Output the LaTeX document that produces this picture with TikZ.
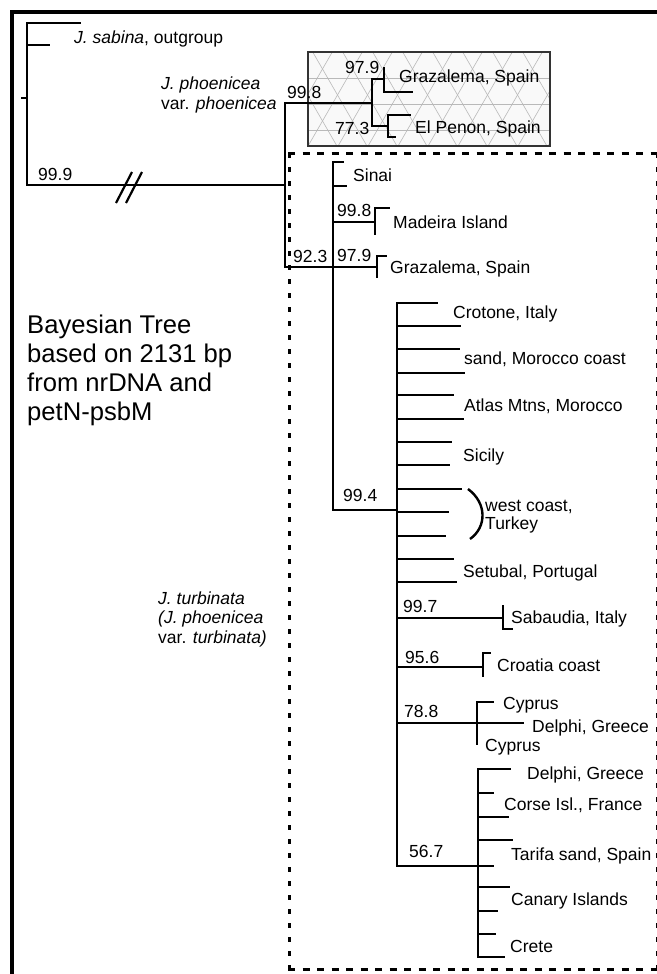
\documentclass[tikz,border=0pt]{standalone}
\usepackage{fontspec}
\setmainfont{Liberation Sans}
\begin{document}
\begin{tikzpicture}[x=1pt,y=-1pt,
  br/.style={line width=2.8pt,line cap=rect},
  lbl/.style={anchor=base west,inner sep=0pt,font=\fontsize{17.5}{20}\selectfont},
  big/.style={anchor=base west,inner sep=0pt,font=\fontsize{25.6}{29}\selectfont},
  dsh/.style={line width=3pt,dash pattern=on 7pt off 7.5pt},
  dshv/.style={line width=3pt,dash pattern=on 5pt off 9pt},
  hatchln/.style={gray!55,line width=0.6pt}]
\useasboundingbox (0,0) rectangle (656,974);
% outer frame
\draw[line width=3.2pt,line join=miter] (12,990) -- (12,12) -- (670,12);
% hatched box
\begin{scope}
  \clip (308,52) rectangle (550,146);
  \fill[gray!5] (308,52) rectangle (550,146);
  \foreach \k in {0,...,4} {\draw[hatchln] (300,52+\k*26) -- (560,52+\k*26);}
  \foreach \x in {180,210,...,600} {
    \draw[hatchln] (\x,30) -- ({\x+80.8},170);
    \draw[hatchln] ({\x+15},30) -- ({\x+15-80.8},170);
  }
\end{scope}
\draw[line width=1.6pt,black!80] (308,52) rectangle (550,146);
% dashed box
\draw[dsh] (288,153) -- (660,153);
\draw[dsh] (288,969) -- (660,969);
\draw[dshv] (289,153) -- (289,969);
\draw[dshv] (657,153) -- (657,969);
% root and outgroup
\draw[br] (22,98) -- (27,98);
\draw[br] (80,23) -- (27,23) -- (27,185) -- (285,185);
\draw[br] (27,45) -- (49,45);
\draw[line width=2.2pt] (116,203) -- (132,172) (126,203) -- (142,172);
% phoenicea
\draw[br] (372,103) -- (285,103) -- (285,267) -- (333,267);
\draw[br] (384,79) -- (372,79) -- (372,126) -- (388,126);
\draw[br] (384,68) -- (384,92) -- (412,92);
\draw[br] (410,115) -- (388,115) -- (388,137) -- (395,137);
% turbinata
\draw[br] (343,162) -- (333,162) -- (333,510) -- (397,510);
\draw[br] (333,186) -- (346,186);
\draw[br] (333,222) -- (375,222);
\draw[br] (389,208) -- (375,208) -- (375,234);
\draw[br] (333,267) -- (377,267);
\draw[br] (386,256) -- (377,256) -- (377,277);
% polytomy
\draw[br] (437,303) -- (397,303) -- (397,866) -- (478,866);
\foreach \y/\e in {326/460,349/459,373/464,395/453,419/463,442/451,465/449,489/461,512/448,536/445,559/453,582/456}
  {\draw[br] (397,\y) -- (\e,\y);}
\draw[br] (397,618) -- (503,618);
\draw[br] (503,606) -- (503,629) -- (512,629);
\draw[br] (397,667) -- (483,667);
\draw[br] (490,653) -- (483,653) -- (483,676);
\draw[br] (397,723) -- (523,723);
\draw[br] (493,702) -- (477,702) -- (477,744);
\draw[br] (478,769) -- (478,957);
\foreach \y/\e in {769/510,793/493,817/508,840/512,887/509,911/497,934/495,957/504}
  {\draw[br] (478,\y) -- (\e,\y);}
\draw[br] (478,866) -- (493,866);
\draw[line width=2.4pt] (468,489) .. controls (487,503) and (487,527) .. (470,539);
% labels
\node[lbl] (sab) at (74,44) {\textit{J. sabina}, outgroup};
\node[lbl] (ph1) at (161,89) {\textit{J. phoenicea}};
\node[lbl] (ph2) at (161,109) {var. \textit{phoenicea}};
\node[lbl] (n998a) at (287,99) {99.8};
\node[lbl] (n979a) at (345,74) {97.9};
\node[lbl] (gra1) at (399,82) {Grazalema, Spain};
\node[lbl] (n773) at (335,134) {77.3};
\node[lbl] (pen) at (415,133) {El Penon, Spain};
\node[lbl] (n999) at (38,180) {99.9};
\node[lbl] (n923) at (293,262) {92.3};
\node[lbl] (sin) at (353,181) {Sinai};
\node[lbl] (n998b) at (337,216) {99.8};
\node[lbl] (mad) at (393,228) {Madeira Island};
\node[lbl] (n979b) at (337,261) {97.9};
\node[lbl] (gra2) at (390,273) {Grazalema, Spain};
\node[lbl] (cro) at (453,318) {Crotone, Italy};
\node[lbl] (mor) at (464,364) {sand, Morocco coast};
\node[lbl] (atl) at (464,411) {Atlas Mtns, Morocco};
\node[lbl] (sic) at (463,461) {Sicily};
\node[lbl] (n994) at (343,501) {99.4};
\node[lbl] (tu1) at (485,511) {west coast,};
\node[lbl] (tu2) at (485,529) {Turkey};
\node[lbl] (set) at (463,577) {Setubal, Portugal};
\node[lbl] (n997) at (403,612) {99.7};
\node[lbl] (sab2) at (511,623) {Sabaudia, Italy};
\node[lbl] (n956) at (405,663) {95.6};
\node[lbl] (croa) at (497,671) {Croatia coast};
\node[lbl] (n788) at (404,717) {78.8};
\node[lbl] (cyp1) at (503,709) {Cyprus};
\node[lbl] (del1) at (532,732) {Delphi, Greece};
\node[lbl] (cyp2) at (485,751) {Cyprus};
\node[lbl] (del2) at (527,779) {Delphi, Greece};
\node[lbl] (cor) at (504,810) {Corse Isl., France};
\node[lbl] (tar) at (511,860) {Tarifa sand, Spain};
\node[lbl] (can) at (511,905) {Canary Islands};
\node[lbl] (cre) at (510,952) {Crete};
\node[lbl] (n567) at (409,857) {56.7};
\node[big] (b1) at (27,333) {Bayesian Tree};
\node[big] (b2) at (27,362) {based on 2131 bp};
\node[big] (b3) at (27,391) {from nrDNA and};
\node[big] (b4) at (27,420) {petN-psbM};
\node[lbl] (t1) at (158,604) {\textit{J. turbinata}};
\node[lbl] (t2) at (158,623) {\textit{(J. phoenicea}};
\node[lbl] (t3) at (158,643) {var. \textit{turbinata)}};
\end{tikzpicture}
\end{document}
